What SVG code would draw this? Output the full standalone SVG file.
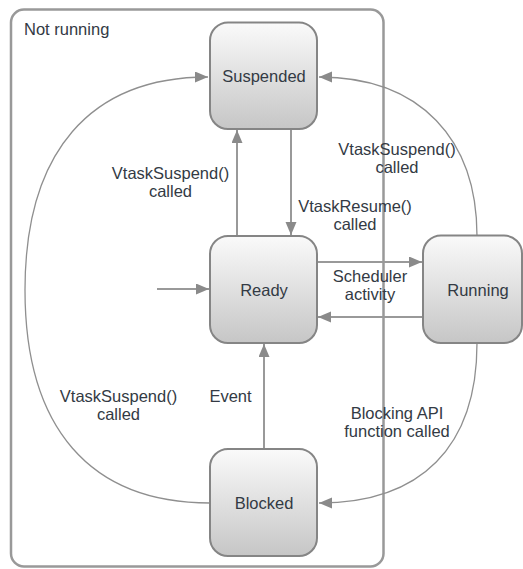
<svg xmlns="http://www.w3.org/2000/svg" width="523" height="569" viewBox="0 0 523 569">
<defs>
<linearGradient id="boxGrad" x1="0" y1="0" x2="0" y2="1">
<stop offset="0" stop-color="#fafafa"/>
<stop offset="1" stop-color="#c6c6c6"/>
</linearGradient>
<marker id="arrow" markerUnits="userSpaceOnUse" markerWidth="14" markerHeight="12" refX="13" refY="5.5" orient="auto">
<path d="M0,0 L13,5.5 L0,11 z" fill="#8a8a8a"/>
</marker>
</defs>
<style>
.container{fill:none;stroke:#999;stroke-width:2.5}
.box{fill:url(#boxGrad);stroke:#858585;stroke-width:2}
.line{fill:none;stroke:#999;stroke-width:2}
.arc{fill:none;stroke:#8f8f8f;stroke-width:1.3}
text{font-family:"Liberation Sans",Arial,sans-serif;font-size:16.5px;fill:#333a44}
.c{text-anchor:middle}
</style>
<g id="not-running">
<rect class="container" x="11" y="9.5" width="372.5" height="557" rx="13"/>
<text x="24" y="35">Not running</text>
</g>
<g id="connectors">
<path class="arc" d="M210,503 C90,503 25,428 25,290 C25,152 90,77 208,77" marker-end="url(#arrow)"/>
<path class="arc" d="M477,236 C477,140 421,77 319,77" marker-end="url(#arrow)"/>
<path class="arc" d="M477,343 C477,447 421,503 319,503" marker-end="url(#arrow)"/>
<line class="line" x1="237" y1="236" x2="237" y2="130" marker-end="url(#arrow)"/>
<line class="line" x1="291" y1="129" x2="291" y2="235" marker-end="url(#arrow)"/>
<line class="line" x1="317" y1="262" x2="422" y2="262" marker-end="url(#arrow)"/>
<line class="line" x1="423" y1="317" x2="318" y2="317" marker-end="url(#arrow)"/>
<line class="line" x1="157" y1="289" x2="209" y2="289" marker-end="url(#arrow)"/>
<line class="line" x1="264" y1="449" x2="264" y2="344" marker-end="url(#arrow)"/>
<text class="c" x="170.5" y="179">VtaskSuspend()</text>
<text class="c" x="170.5" y="197">called</text>
<text class="c" x="397" y="155">VtaskSuspend()</text>
<text class="c" x="397" y="173">called</text>
<text class="c" x="355" y="212">VtaskResume()</text>
<text class="c" x="355" y="230">called</text>
<text class="c" x="370" y="282">Scheduler</text>
<text class="c" x="370" y="300">activity</text>
<text class="c" x="118.5" y="402">VtaskSuspend()</text>
<text class="c" x="118.5" y="420">called</text>
<text class="c" x="230.5" y="402">Event</text>
<text class="c" x="397" y="419">Blocking API</text>
<text class="c" x="397" y="437">function called</text>
</g>
<g id="suspended">
<rect class="box" x="210" y="22.5" width="107" height="106.5" rx="18"/>
<text class="c" x="264" y="82">Suspended</text>
</g>
<g id="ready">
<rect class="box" x="210" y="236" width="107" height="107" rx="18"/>
<text class="c" x="264" y="296">Ready</text>
</g>
<g id="running">
<rect class="box" x="423" y="235.5" width="99" height="107.5" rx="18"/>
<text class="c" x="478" y="296">Running</text>
</g>
<g id="blocked">
<rect class="box" x="210" y="449" width="107" height="107" rx="18"/>
<text class="c" x="264" y="509">Blocked</text>
</g>
</svg>
